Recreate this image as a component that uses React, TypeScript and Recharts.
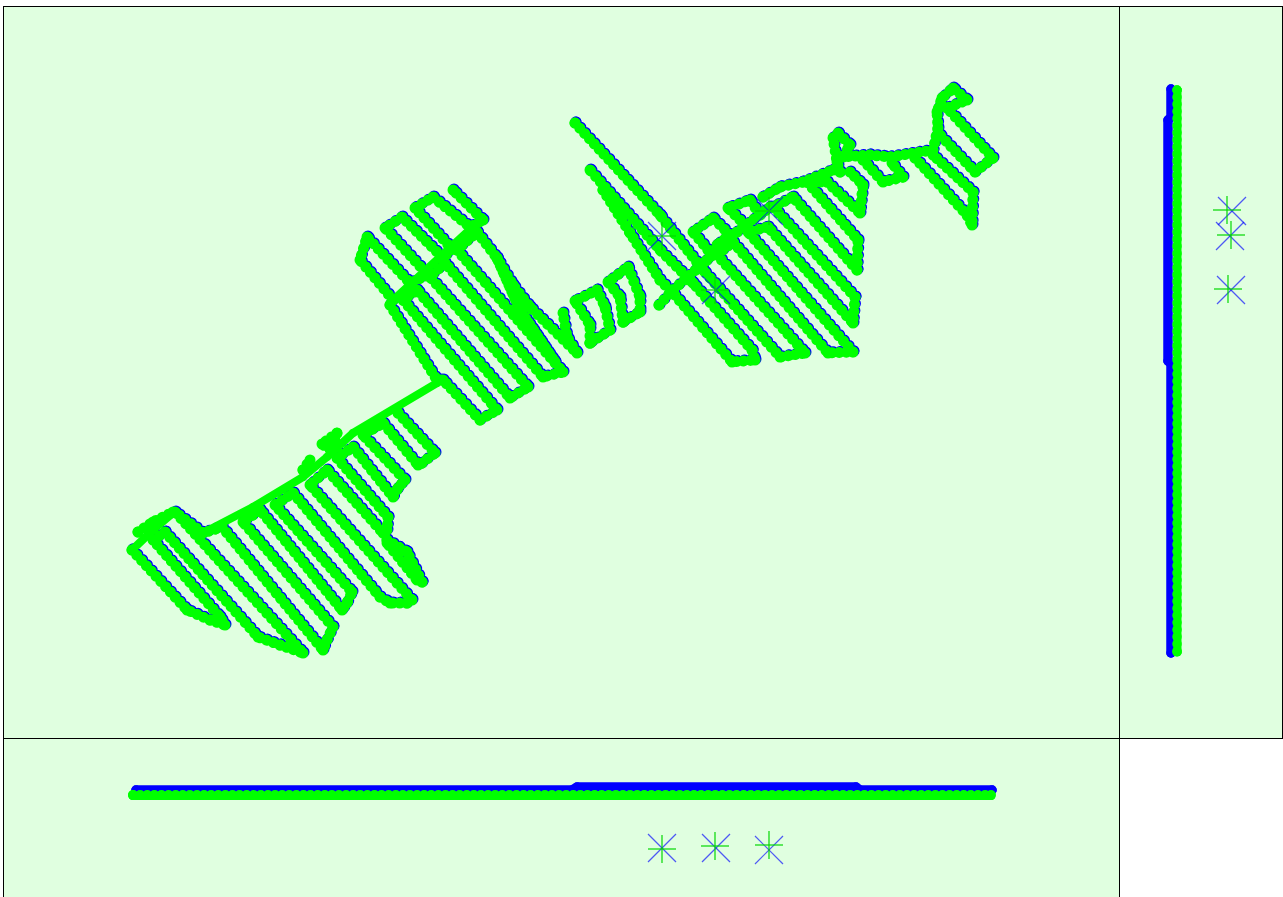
import React from 'react';
import { ScatterChart, Scatter, XAxis, YAxis } from 'recharts';

// x, y, top view
const swStrips = [[132,550],[187,610],[210,620],[225,625],[220,617],[153,540],[165,532],[258,637],[280,645],[303,653],[175,512],[203,533],[222,527],[323,650],[327,640],[333,627],[243,522],[260,510],[342,610],[347,603],[352,592],[275,505],[293,493],[380,597],[390,603],[407,603],[412,600],[310,485],[327,470],[383,533],[387,530],[388,517],[337,458],[353,447],[393,497],[398,488],[405,480],[363,435],[383,423],[418,465],[422,463],[435,453],[398,413]];
const swStripsInitial = [[133,549],[188,609],[211,619],[226,624],[221,616],[154,539],[166,531],[259,636],[281,644],[304,652],[176,511],[204,532],[223,526],[324,649],[328,639],[334,626],[244,521],[261,509],[343,609],[348,602],[353,591],[276,504],[294,492],[381,596],[391,602],[408,602],[413,599],[311,484],[328,469],[384,532],[388,529],[389,516],[338,457],[354,446],[394,496],[399,487],[406,479],[364,434],[384,422],[419,464],[423,462],[436,452],[399,412]];
const swSpur = [[387,540],[407,552],[422,582],[417,580],[387,543]];
const swSpurInitial = [[388,539],[408,551],[423,581],[418,579],[388,542]];
const midLower = [[390,305],[437,380],[443,380],[480,420],[497,410],[403,300],[417,290],[510,398],[528,387],[430,277],[445,263],[543,377],[563,372],[457,250],[477,232],[497,258],[520,310],[555,362],[520,310],[497,258],[513,285],[530,307],[577,353],[567,337],[563,313]];
const midLowerInitial = [[391,304],[438,379],[444,379],[481,419],[498,409],[404,299],[418,289],[511,397],[529,386],[431,276],[446,262],[544,376],[564,371],[458,249],[478,231],[498,257],[521,309],[556,361],[521,309],[498,257],[514,284],[531,306],[578,352],[568,336],[564,312]];
const midUpper = [[393,300],[360,260],[367,237],[410,283],[428,275],[385,228],[402,217],[443,258],[452,249],[415,208],[433,197],[470,227],[483,220],[453,190]];
const midUpperInitial = [[394,299],[361,259],[368,236],[411,282],[429,274],[386,227],[403,216],[444,257],[453,248],[416,207],[434,196],[471,226],[484,219],[454,189]];
const rectA = [[590,343],[590,325],[575,301],[597,290],[605,307],[610,330],[590,343]];
const rectAInitial = [[591,342],[591,324],[576,300],[598,289],[606,306],[611,329],[591,342]];
const rectB = [[623,322],[620,297],[608,282],[628,267],[640,297],[640,312],[623,322]];
const rectBInitial = [[624,321],[621,296],[609,281],[629,266],[641,296],[641,311],[624,321]];
const neLeft = [[603,190],[630,233],[660,280],[673,293],[732,362],[755,360],[752,350],[693,283],[660,250],[590,170]];
const neLeftInitial = [[604,189],[631,232],[661,279],[674,292],[733,361],[756,359],[753,349],[694,282],[661,249],[591,169]];
const neBlock = [[575,123],[660,215],[703,270],[780,357],[805,353],[717,255],[733,242],[828,353],[853,352],[748,232],[768,227],[853,323],[855,297],[773,207],[793,197],[857,270],[858,240],[807,182],[827,182],[860,213],[863,185],[850,172]];
const neBlockInitial = [[576,122],[661,214],[704,269],[781,356],[806,352],[718,254],[734,241],[829,352],[854,351],[749,231],[769,226],[854,322],[856,296],[774,206],[794,196],[858,269],[859,239],[808,181],[828,181],[861,212],[864,184],[851,171]];
const hookA = [[708,250],[693,232],[713,218],[730,235],[717,245]];
const hookAInitial = [[709,249],[694,231],[714,217],[731,234],[718,244]];
const hookB = [[745,225],[728,208],[750,200],[760,215]];
const hookBInitial = [[746,224],[729,207],[751,199],[761,214]];
const arc = [[763,197],[780,187],[803,182],[833,170]];
const arcInitial = [[764,196],[781,186],[804,181],[834,169]];
const farNe = [[840,172],[837,162],[833,138],[838,133],[850,145],[843,157],[870,155],[890,157],[933,150],[938,128],[937,112],[942,98],[953,88],[967,100],[947,108],[993,158],[975,172],[940,135]];
const farNeInitial = [[841,171],[838,161],[834,137],[839,132],[851,144],[844,156],[871,154],[891,156],[934,149],[939,127],[938,111],[943,97],[954,87],[968,99],[948,107],[994,157],[976,171],[941,134]];
const farLoop = [[863,160],[883,182],[903,177],[892,163]];
const farLoopInitial = [[864,159],[884,181],[904,176],[893,162]];
const farTail = [[915,158],[967,215],[972,225],[973,192],[933,155]];
const farTailInitial = [[916,157],[968,214],[973,224],[974,191],[934,154]];
const neSpine = [[659,305],[673,290],[707,260],[737,232],[770,207]];
const neSpineInitial = [[660,304],[674,289],[708,259],[738,231],[771,206]];
const swHead = [[132,550],[153,530],[173,513]];
const swKnobs = [[138,532],[153,522],[173,512]];
const spine = [[203,533],[253,507],[303,477],[327,457],[353,433],[437,383]];
const spineHooks = [[303,470],[310,460]];
const spineHooks2 = [[330,449],[322,444],[337,433],[333,447]];
const midSpine = [[390,303],[477,223]];

// side views
const sideGreen = [[1177,90],[1177,652]];
const sideGreenCore = [[1177.5,90],[1177.5,652]];
const sideBlue = [[1171,89],[1171,117],[1168,120],[1168,361],[1171,364],[1171,653]];
const frontGreen = [[133,795],[991,795]];
const frontGreenCore = [[133,796],[991,796]];
const frontBlue = [[136,790],[572,790],[577,787],[856,787],[860,790],[992,790]];

// ground control marks
const markBlueTop = [[662,236],[716,290],[769,211]];
const markGreenTop = [[662,236],[715,290],[769,211]];
const markBlueSide = [[1232,211],[1230,236],[1231,290]];
const markGreenSide = [[1227,210],[1231,235],[1228,289]];
const markBlueFront = [[662,848],[716,848],[769,850]];
const markGreenFront = [[662,849],[715,846],[769,845]];

const BLUE = '#0000ff';
const GREEN = '#00ff00';
const BG = '#e0ffe0';

const pts = (a: number[][]) => a.map(([x, y]) => ({ x, y }));

const Dot = (r: number, color: string) => (p: any) => <circle cx={p.cx} cy={p.cy} r={r} fill={color} />;

const XMark = (p: any) => (
  <g stroke={BLUE} strokeWidth={1.2} strokeOpacity={0.65}>
    <line x1={p.cx - 14} y1={p.cy - 14} x2={p.cx + 14} y2={p.cy + 14} />
    <line x1={p.cx - 14} y1={p.cy + 14} x2={p.cx + 14} y2={p.cy - 14} />
  </g>
);

const PlusMark = (p: any) => (
  <g stroke="#00d800" strokeWidth={1.2}>
    <line x1={p.cx - 14} y1={p.cy} x2={p.cx + 14} y2={p.cy} />
    <line x1={p.cx} y1={p.cy - 14} x2={p.cx} y2={p.cy + 14} />
  </g>
);

const track = (key: string, data: number[][], color: string, width = 11) => (
  <Scatter
    key={key}
    data={pts(data)}
    dataKey="y"
    fill={color}
    isAnimationActive={false}
    shape={Dot(width / 2, color)}
    line={{ stroke: color, strokeWidth: width, strokeLinecap: 'round', strokeLinejoin: 'round', strokeDasharray: '0.1 7' }}
  />
);

const solid = (key: string, data: number[][], color: string, width: number) => (
  <Scatter
    key={key}
    data={pts(data)}
    dataKey="y"
    fill={color}
    isAnimationActive={false}
    shape={Dot(width / 2, color)}
    line={{ stroke: color, strokeWidth: width, strokeLinecap: 'round', strokeLinejoin: 'round' }}
  />
);

const marks = (key: string, data: number[][], shape: any) => (
  <Scatter key={key} data={pts(data)} dataKey="y" isAnimationActive={false} shape={shape} />
);

const Panel = ({ left, top, width, height, children }: any) => (
  <div style={{ position: 'absolute', left, top, width, height, background: BG, outline: '1px solid #000', outlineOffset: -1 }}>
    <ScatterChart width={width} height={height} margin={{ top: 0, right: 0, bottom: 0, left: 0 }}>
      <XAxis type="number" dataKey="x" hide domain={[left, left + width]} />
      <YAxis type="number" dataKey="y" hide reversed domain={[top, top + height]} />
      {children}
    </ScatterChart>
  </div>
);

export default function App() {
  const initial = [swStripsInitial, swSpurInitial, midLowerInitial, midUpperInitial, rectAInitial, rectBInitial, neLeftInitial, neBlockInitial, hookAInitial, hookBInitial, arcInitial, farNeInitial, farLoopInitial, farTailInitial, neSpineInitial];
  const computed = [swStrips, swSpur, midLower, midUpper, rectA, rectB, neLeft, neBlock, hookA, hookB, arc, farNe, farLoop, farTail, neSpine, swKnobs, spineHooks, spineHooks2];
  const spines = [swHead, spine, midSpine];
  return (
    <div style={{ position: 'absolute', left: 0, top: 0, width: 1283, height: 897, overflow: 'hidden', background: '#fff' }}>
      <Panel left={3} top={6} width={1117} height={733}>
        {initial.map((d, i) => track(`b${i}`, d, BLUE))}
        {computed.map((d, i) => track(`g${i}`, d, GREEN))}
        {spines.map((d, i) => solid(`s${i}`, d, GREEN, 8))}
        {marks('xt', markBlueTop, XMark)}
        {marks('pt', markGreenTop, PlusMark)}
      </Panel>
      <Panel left={1119} top={6} width={164} height={733}>
        {solid('b', sideBlue, BLUE, 9.5)}
        {track('g', sideGreen, GREEN, 9.5)}
        {solid('g2', sideGreenCore, GREEN, 8)}
        {marks('x', markBlueSide, XMark)}
        {marks('p', markGreenSide, PlusMark)}
      </Panel>
      <Panel left={3} top={738} width={1117} height={170}>
        {solid('b', frontBlue, BLUE, 9.5)}
        {track('g', frontGreen, GREEN, 10)}
        {solid('g2', frontGreenCore, GREEN, 8)}
        {marks('x', markBlueFront, XMark)}
        {marks('p', markGreenFront, PlusMark)}
      </Panel>
    </div>
  );
}
